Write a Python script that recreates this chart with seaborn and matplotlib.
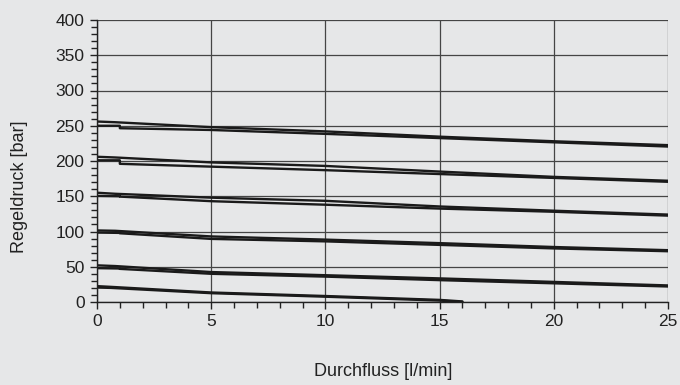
import matplotlib.pyplot as plt
import pandas as pd
import seaborn as sns
from matplotlib.ticker import MultipleLocator

# measured control pressure vs. flow, two branches (rising / falling) per setting
x_a = [0, 0.8, 5, 10, 15, 20, 25]
x_b = [0, 1.0, 1.0, 5, 10, 15, 20, 25]
x_low = [0, 0.6, 5, 10, 15, 16]

p250_a = [256, 255, 248, 242, 234.5, 228, 222.5]
p250_b = [250, 250, 246.5, 244, 238.5, 232.5, 226.5, 220.5]
p200_a = [206, 205, 198, 193, 185, 177.5, 172]
p200_b = [201, 201, 196, 192, 187, 181.5, 176, 170.5]
p150_a = [155, 153.5, 148, 143.5, 135.5, 129.5, 124]
p150_b = [150.5, 150, 149.5, 143, 138, 132.5, 128, 122.5]
p100_a = [101.5, 101, 93, 88.5, 83.5, 78, 73.5]
p100_b = [98.5, 98, 97.5, 89.5, 86, 81, 76, 72]
p50_a = [52, 51, 42.5, 38, 33.5, 28.5, 23.5]
p50_b = [48, 47.5, 47, 40, 36, 31, 26.5, 22]
p20_a = [22.5, 21.5, 13.5, 8.5, 3, 0.8]
p20_b = [20.5, 20, 12.5, 7.5, 2, 0]

branches = [
    (x_a, p250_a), (x_b, p250_b),
    (x_a, p200_a), (x_b, p200_b),
    (x_a, p150_a), (x_b, p150_b),
    (x_a, p100_a), (x_b, p100_b),
    (x_a, p50_a), (x_b, p50_b),
    (x_low, p20_a), (x_low, p20_b),
]

bg = "#e6e7e8"
sns.set_style("white")
plt.rcParams["font.family"] = ["Liberation Sans", "DejaVu Sans"]

fig = plt.figure(figsize=(6.8, 3.85), dpi=100, facecolor=bg)
ax = fig.add_axes([97 / 680, 83 / 385, 571 / 680, 282 / 385])
ax.set_facecolor(bg)

for i, (xs, ys) in enumerate(branches):
    df = pd.DataFrame({"flow": xs, "pressure": ys})
    sns.lineplot(data=df, x="flow", y="pressure", ax=ax, sort=False,
                 color="#1a1a1a", linewidth=1.7, estimator=None)

ax.set_xlim(0, 25)
ax.set_ylim(0, 400)
ax.xaxis.set_major_locator(MultipleLocator(5))
ax.xaxis.set_minor_locator(MultipleLocator(1))
ax.yaxis.set_major_locator(MultipleLocator(50))
ax.yaxis.set_minor_locator(MultipleLocator(10))
ax.grid(True, which="major", color="#454545", linewidth=0.9)
ax.set_axisbelow(True)

for side in ["top", "right"]:
    ax.spines[side].set_visible(False)
for side in ["left", "bottom"]:
    ax.spines[side].set_color("#222222")
    ax.spines[side].set_linewidth(1.0)

ax.tick_params(which="major", direction="out", length=5, width=1,
               color="#222222", labelsize=12.5, labelcolor="#222222", pad=4,
               bottom=True, left=True)
ax.tick_params(which="minor", direction="out", length=4, width=1,
               color="#222222", bottom=True, left=True)

ax.set_xlabel("")
ax.set_ylabel("")
fig.text(383 / 680, 1 - 372 / 385, "Durchfluss [l/min]", ha="center",
         va="center", fontsize=13, color="#222222")
fig.text(20 / 680, 1 - 187 / 385, "Regeldruck [bar]", ha="center",
         va="center", rotation=90, fontsize=13, color="#222222")

fig.savefig("out.png", dpi=100, facecolor=bg)
